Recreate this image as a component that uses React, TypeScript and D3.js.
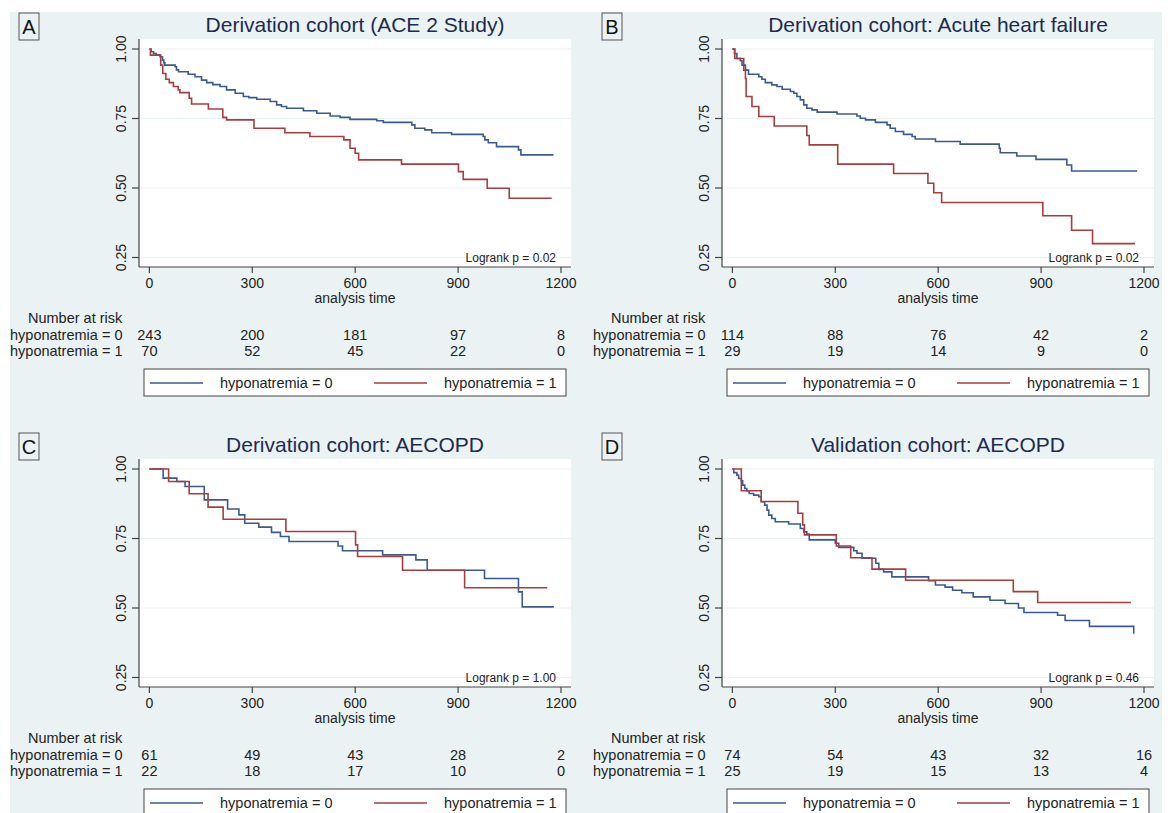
import * as d3 from "d3";

type Pt = [number, number];

const timeTicks = [0, 300, 600, 900, 1200];
const survTicks = [0.25, 0.5, 0.75, 1.0];
const groupLabels = ["hyponatremia = 0", "hyponatremia = 1"];
const panelLetters = ["A", "B", "C", "D"];
const panelTitles = [
  "Derivation cohort (ACE 2 Study)",
  "Derivation cohort: Acute heart failure",
  "Derivation cohort: AECOPD",
  "Validation cohort: AECOPD",
];
const logrankP = ["0.02", "0.02", "1.00", "0.46"];

// Kaplan-Meier steps: [time, survival from that time on]
const aBlue: Pt[] = [
  [0, 1], [5, 0.99], [12, 0.984], [20, 0.978], [31, 0.972], [38, 0.96], [42, 0.95], [45, 0.942],
  [75, 0.936], [79, 0.925], [85, 0.918], [113, 0.909], [133, 0.9], [152, 0.888], [167, 0.879],
  [185, 0.872], [206, 0.865], [225, 0.853], [250, 0.841], [274, 0.829], [290, 0.825], [313, 0.819],
  [352, 0.811], [371, 0.799], [385, 0.793], [400, 0.787], [449, 0.778], [488, 0.769], [527, 0.759],
  [556, 0.754], [585, 0.747], [663, 0.742], [682, 0.736], [765, 0.727], [774, 0.715], [803, 0.709],
  [823, 0.699], [881, 0.693], [973, 0.685], [978, 0.673], [988, 0.663], [1012, 0.649], [1076, 0.637],
  [1083, 0.619], [1178, 0.619],
];
const aRed: Pt[] = [
  [0, 1], [3, 0.978], [33, 0.942], [39, 0.912], [48, 0.891], [58, 0.879], [70, 0.865], [84, 0.853],
  [89, 0.843], [116, 0.823], [123, 0.802], [172, 0.784], [214, 0.754], [225, 0.745], [305, 0.715],
  [395, 0.699], [468, 0.685], [567, 0.673], [585, 0.643], [600, 0.625], [610, 0.601], [735, 0.586],
  [901, 0.559], [915, 0.531], [985, 0.499], [1049, 0.463], [1173, 0.463],
];
const bBlue: Pt[] = [
  [0, 1], [6, 0.984], [13, 0.966], [23, 0.958], [28, 0.942], [38, 0.924], [47, 0.909], [77, 0.9],
  [86, 0.891], [96, 0.879], [115, 0.871], [130, 0.865], [145, 0.855], [169, 0.847], [179, 0.841],
  [188, 0.829], [198, 0.817], [208, 0.799], [217, 0.787], [232, 0.781], [247, 0.773], [305, 0.766],
  [363, 0.759], [373, 0.751], [388, 0.745], [417, 0.736], [451, 0.727], [460, 0.715], [475, 0.703],
  [499, 0.693], [524, 0.685], [533, 0.676], [592, 0.667], [664, 0.658], [778, 0.643], [781, 0.627],
  [829, 0.615], [885, 0.603], [975, 0.583], [989, 0.561], [1180, 0.561],
];
const bRed: Pt[] = [
  [0, 1], [7, 0.966], [33, 0.924], [38, 0.894], [40, 0.829], [57, 0.793], [77, 0.757], [122, 0.723],
  [217, 0.689], [224, 0.655], [307, 0.586], [470, 0.552], [570, 0.517], [587, 0.483], [610, 0.448],
  [905, 0.4], [989, 0.348], [1050, 0.3], [1174, 0.3],
];
const cBlue: Pt[] = [
  [0, 1], [40, 0.967], [80, 0.955], [104, 0.937], [160, 0.889], [228, 0.856], [261, 0.835],
  [278, 0.805], [319, 0.791], [356, 0.772], [382, 0.757], [407, 0.739], [550, 0.723], [563, 0.706],
  [680, 0.691], [777, 0.673], [810, 0.636], [977, 0.606], [1076, 0.558], [1087, 0.504], [1179, 0.504],
];
const cRed: Pt[] = [
  [0, 1], [56, 0.955], [116, 0.911], [171, 0.863], [215, 0.819], [398, 0.775], [601, 0.727],
  [607, 0.685], [738, 0.636], [919, 0.573], [1160, 0.573],
];
const dBlue: Pt[] = [
  [0, 1], [4, 0.987], [13, 0.978], [18, 0.966], [26, 0.958], [30, 0.942], [36, 0.93], [42, 0.922],
  [49, 0.912], [62, 0.906], [77, 0.9], [84, 0.882], [94, 0.87], [101, 0.852], [106, 0.834],
  [115, 0.822], [125, 0.81], [164, 0.802], [198, 0.786], [208, 0.774], [217, 0.766], [224, 0.745],
  [300, 0.733], [310, 0.718], [354, 0.706], [363, 0.697], [378, 0.679], [418, 0.661], [427, 0.639],
  [441, 0.63], [465, 0.612], [572, 0.598], [592, 0.583], [620, 0.575], [642, 0.564], [669, 0.555],
  [702, 0.54], [751, 0.528], [795, 0.516], [834, 0.5], [850, 0.484], [948, 0.474], [970, 0.455],
  [1041, 0.434], [1170, 0.41], [1172, 0.41],
];
const dRed: Pt[] = [
  [0, 1], [26, 0.922], [84, 0.883], [191, 0.841], [205, 0.799], [210, 0.763], [303, 0.723],
  [345, 0.681], [407, 0.64], [505, 0.6], [819, 0.559], [890, 0.52], [1162, 0.52],
];

// number at risk
const aRisk0 = [243, 200, 181, 97, 8];
const aRisk1 = [70, 52, 45, 22, 0];
const bRisk0 = [114, 88, 76, 42, 2];
const bRisk1 = [29, 19, 14, 9, 0];
const cRisk0 = [61, 49, 43, 28, 2];
const cRisk1 = [22, 18, 17, 10, 0];
const dRisk0 = [74, 54, 43, 32, 16];
const dRisk1 = [25, 19, 15, 13, 4];

const curves = [
  [aBlue, aRed],
  [bBlue, bRed],
  [cBlue, cRed],
  [dBlue, dRed],
];
const risks = [
  [aRisk0, aRisk1],
  [bRisk0, bRisk1],
  [cRisk0, cRisk1],
  [dRisk0, dRisk1],
];

const W = 1176;
const H = 813;
const BG = "#eaf2f3";
const BLUE = "#3b5b8f";
const RED = "#a3403f";
const TITLE = "#1e2b4d";
const FONT = "'Liberation Sans', Arial, Helvetica, sans-serif";

const offsets: Pt[] = [
  [10, 12],
  [593, 12],
  [10, 432],
  [593, 432],
];

const x = d3.scaleLinear().domain([0, 1200]).range([139.4, 551]);
const y = d3.scaleLinear().domain([0.25, 1]).range([245.5, 37]);
const line = d3
  .line<Pt>()
  .x((d) => x(d[0]))
  .y((d) => y(d[1]))
  .curve(d3.curveStepAfter);
const fmt = d3.format(".2f");

function Panel({ i }: { i: number }) {
  const [ox, oy] = offsets[i];
  const plotL = 129;
  const plotR = 561;
  const plotT = 27;
  const plotB = 255;
  const cx = (plotL + plotR) / 2;
  const colors = [BLUE, RED];
  return (
    <g transform={`translate(${ox},${oy})`} fontFamily={FONT}>
      <rect x={9} y={1} width={20} height={27} fill={BG} stroke="#555" strokeWidth={1} />
      <text x={19} y={22} textAnchor="middle" fontSize={20} fill="#111">
        {panelLetters[i]}
      </text>
      <text x={cx} y={19.5} textAnchor="middle" fontSize={21} fill={TITLE}>
        {panelTitles[i]}
      </text>
      <rect x={plotL} y={plotT} width={plotR - plotL} height={plotB - plotT} fill="#fff" />
      {survTicks.map((t) => (
        <line key={t} x1={plotL} x2={plotR} y1={y(t)} y2={y(t)} stroke={BG} strokeWidth={1.2} />
      ))}
      {curves[i].map((c, k) => (
        <path key={k} d={line(c) || ""} fill="none" stroke={colors[k]} strokeWidth={1.6} />
      ))}
      <line x1={plotL} x2={plotL} y1={plotT} y2={plotB} stroke="#444" strokeWidth={1.2} />
      <line x1={plotL} x2={plotR} y1={plotB} y2={plotB} stroke="#444" strokeWidth={1.2} />
      {survTicks.map((t) => (
        <g key={t}>
          <line x1={plotL - 7} x2={plotL} y1={y(t)} y2={y(t)} stroke="#444" strokeWidth={1.2} />
          <text
            transform={`translate(116,${y(t)}) rotate(-90)`}
            textAnchor="middle"
            fontSize={14}
            fill="#222"
          >
            {fmt(t)}
          </text>
        </g>
      ))}
      {timeTicks.map((t) => (
        <g key={t}>
          <line x1={x(t)} x2={x(t)} y1={plotB} y2={plotB + 6} stroke="#444" strokeWidth={1.2} />
          <text x={x(t)} y={276} textAnchor="middle" fontSize={14} fill="#222">
            {t}
          </text>
        </g>
      ))}
      <text x={cx} y={291} textAnchor="middle" fontSize={14} fill="#222">
        analysis time
      </text>
      <text x={546} y={250} textAnchor="end" fontSize={12} fill="#222">
        {`Logrank p = ${logrankP[i]}`}
      </text>
      <text x={18} y={311} fontSize={14.5} fill="#222">
        Number at risk
      </text>
      {risks[i].map((row, k) => (
        <g key={k}>
          <text x={0} y={328 + k * 16} fontSize={14.5} fill="#222">
            {groupLabels[k]}
          </text>
          {row.map((v, j) => (
            <text key={j} x={x(timeTicks[j])} y={328 + k * 16} textAnchor="middle" fontSize={14.5} fill="#222">
              {v}
            </text>
          ))}
        </g>
      ))}
      <rect x={134} y={357} width={422} height={27} fill="#fff" stroke="#444" strokeWidth={1} />
      {groupLabels.map((g, k) => (
        <g key={g}>
          <line x1={140 + k * 224} x2={193 + k * 224} y1={371} y2={371} stroke={colors[k]} strokeWidth={1.6} />
          <text x={210 + k * 224} y={376} fontSize={14.5} fill="#222">
            {g}
          </text>
        </g>
      ))}
    </g>
  );
}

export default function App() {
  return (
    <svg
      width={W}
      height={H}
      style={{ position: "absolute", left: 0, top: 0, background: "#fff" }}
    >
      <rect x={10} y={12} width={1152} height={H - 12} fill={BG} />
      {[0, 1, 2, 3].map((i) => (
        <Panel key={i} i={i} />
      ))}
    </svg>
  );
}
